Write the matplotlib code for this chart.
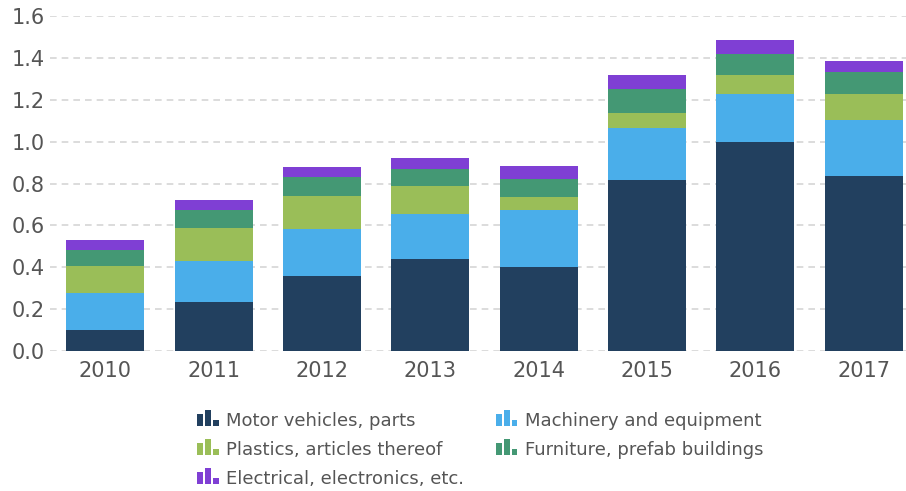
import matplotlib
matplotlib.use("Agg")
import matplotlib.pyplot as plt
from matplotlib.patches import Rectangle
import numpy as np

# data
years = ["2010", "2011", "2012", "2013", "2014", "2015", "2016", "2017"]
motor = [0.100, 0.234, 0.358, 0.439, 0.401, 0.817, 0.998, 0.836]
machinery = [0.175, 0.196, 0.225, 0.215, 0.274, 0.250, 0.230, 0.268]
plastics = [0.131, 0.158, 0.158, 0.134, 0.061, 0.070, 0.090, 0.124]
furniture = [0.076, 0.086, 0.089, 0.080, 0.086, 0.115, 0.101, 0.105]
electrical = [0.048, 0.048, 0.049, 0.054, 0.062, 0.066, 0.067, 0.052]

labels = ["Motor vehicles, parts", "Machinery and equipment",
          "Plastics, articles thereof", "Furniture, prefab buildings",
          "Electrical, electronics, etc."]
colors = ["#22405f", "#4aaeea", "#9abe58", "#449874", "#7f3fd4"]
series = [motor, machinery, plastics, furniture, electrical]


class BarIconHandler:
    # little bar-chart glyph used as legend marker, sitting on the text baseline
    def legend_artist(self, legend, orig_handle, fontsize, handlebox):
        w = handlebox.width
        c = orig_handle.get_facecolor()
        heights = [0.70, 0.88, 0.35]
        for i, hh in enumerate(heights):
            r = Rectangle((-handlebox.xdescent + i * w * 0.37, 0), w * 0.27, fontsize * hh,
                          facecolor=c, edgecolor="none",
                          transform=handlebox.get_transform())
            handlebox.add_artist(r)
        return r


fig = plt.figure(figsize=(9.06, 4.91), dpi=100)
ax = fig.add_axes([50 / 906, 1 - 351 / 491, 856 / 906, 335 / 491])

x = np.arange(len(years))
bottom = np.zeros(len(years))
handles = []
for vals, lab, col in zip(series, labels, colors):
    b = ax.bar(x, vals, width=0.72, bottom=bottom, color=col, label=lab, zorder=3)
    handles.append(b[0])
    bottom += np.array(vals)

ax.set_xlim(-0.51, 7.39)
ax.set_ylim(0, 1.6)
ax.set_yticks(np.arange(0, 1.61, 0.2))
ax.set_yticklabels([f"{v:.1f}" for v in np.arange(0, 1.61, 0.2)])
ax.set_xticks(x)
ax.set_xticklabels(years)
ax.tick_params(axis="both", length=0, labelsize=15, labelcolor="#555555")
ax.tick_params(axis="y", pad=4)
ax.tick_params(axis="x", pad=7)
ax.grid(axis="y", color="#d6d6d6", linestyle=(0, (4, 3)), linewidth=1.2, zorder=0)
for s in ax.spines.values():
    s.set_visible(False)

# legend in two columns below the plot, filled row by row
order = [0, 2, 4, 1, 3]
leg = fig.legend([handles[i] for i in order], [labels[i] for i in order],
                 loc="upper left", bbox_to_anchor=(190 / 906, 1 - 405 / 491),
                 ncol=2, frameon=False, fontsize=13, labelcolor="#555555",
                 handler_map={Rectangle: BarIconHandler()},
                 handlelength=1.17, handleheight=0.8, handletextpad=0.45,
                 columnspacing=1.75, labelspacing=0.61, borderaxespad=0)

fig.savefig("out.png", dpi=100)
